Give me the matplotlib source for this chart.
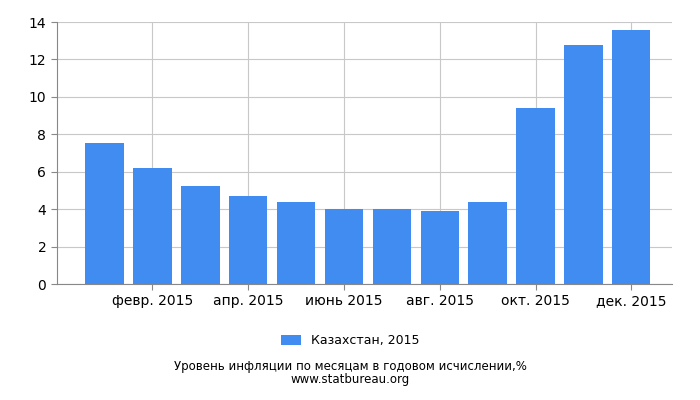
import matplotlib
matplotlib.use("Agg")
import matplotlib.pyplot as plt

months = ["янв. 2015","февр. 2015","март 2015","апр. 2015","май 2015","июнь 2015",
          "июль 2015","авг. 2015","сент. 2015","окт. 2015","нояб. 2015","дек. 2015"]
values = [7.55, 6.2, 5.25, 4.7, 4.4, 4.0, 4.0, 3.9, 4.4, 9.4, 12.75, 13.55]
series_name = "Казахстан, 2015"

fig = plt.figure(figsize=(7, 4), dpi=100)
ax = fig.add_axes([0.081, 0.29, 0.879, 0.655])
x = list(range(len(values)))
ax.bar(x, values, width=0.8, color="#418CF0", label=series_name, zorder=3)
ax.set_xlim(-1, 11.85)
ax.set_ylim(0, 14)
ax.set_yticks(range(0, 15, 2))
ax.set_xticks(x[1::2])
ax.set_xticklabels(months[1::2])
ax.grid(True, color="#c8c8c8", linewidth=0.8, zorder=0)
for s in ["top", "right"]:
    ax.spines[s].set_visible(False)
ax.spines["left"].set_color("#888888")
ax.spines["bottom"].set_color("#888888")
ax.tick_params(labelsize=10, color="#888888", length=4)
fig.legend(loc="center", bbox_to_anchor=(0.5, 0.148), frameon=False, fontsize=9,
           handlelength=1.6, handleheight=0.9)
fig.text(0.5, 0.075, "Уровень инфляции по месяцам в годовом исчислении,%", ha="center", fontsize=8.5)
fig.text(0.5, 0.042, "www.statbureau.org", ha="center", fontsize=8.5)
fig.savefig("out.png")
